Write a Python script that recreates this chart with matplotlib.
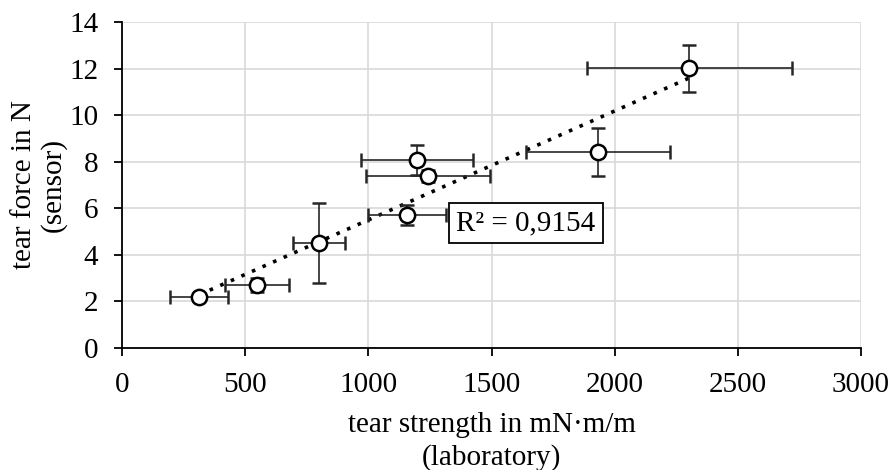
import numpy as np
import matplotlib
matplotlib.use('Agg')
import matplotlib.pyplot as plt

plt.rcParams['font.family'] = ['Liberation Serif', 'DejaVu Serif']

# tear strength (laboratory) vs tear force (sensor)
strength = [313, 548, 800, 1157, 1198, 1242, 1933, 2302]
strength_err = [117, 130, 105, 160, 228, 250, 293, 416]
force = [2.2, 2.7, 4.5, 5.7, 8.07, 7.38, 8.41, 12.02]
force_err = [0.1, 0.3, 1.72, 0.42, 0.65, 0.25, 1.03, 1.01]

x = np.array(strength)
y = np.array(force)
k, d = np.polyfit(x, y, 1)
r2 = 1 - np.sum((y - (k*x + d))**2) / np.sum((y - y.mean())**2)

fig = plt.figure(figsize=(8.93, 4.70), dpi=100)
ax = fig.add_axes([122/893, 1-348/470, (861-122)/893, (348-22)/470])

ax.grid(True, color='#d9d9d9', linewidth=1.2)
ax.set_axisbelow(True)

xs = np.array([x.min(), x.max()])
ax.plot(xs, k*xs + d, color='black', linestyle=(0, (1, 2.2)), linewidth=2.6, zorder=2)

ax.errorbar(x, y, xerr=strength_err, yerr=force_err, fmt='o', ms=11,
            mfc='white', mec='black', mew=1.8, ecolor='#262626', elinewidth=1.2,
            capsize=5, capthick=1.2, zorder=3)

ax.text(1640, 5.37, 'R² = {:.4f}'.format(r2).replace('.', ','), fontsize=21,
        ha='center', va='center', zorder=5,
        bbox=dict(boxstyle='square,pad=0.25', fc='white', ec='black', lw=1.3))

ax.set_xlim(0, 3000)
ax.set_ylim(0, 14)
ax.set_xticks(np.arange(0, 3001, 500))
ax.set_yticks(np.arange(0, 15, 2))
for s in ['top', 'right']:
    ax.spines[s].set_visible(False)
for s in ['left', 'bottom']:
    ax.spines[s].set_linewidth(1.3)
ax.tick_params(labelsize=21, length=6, width=1.3, direction='out')
ax.tick_params(axis='x', pad=11)
ax.tick_params(axis='y', pad=11)

ax.set_xlabel('tear strength in mN·m/m\n(laboratory)', fontsize=21, labelpad=10,
              linespacing=1.3)
ax.set_ylabel('tear force in N\n(sensor)', fontsize=21, labelpad=2, linespacing=1.1)

fig.savefig('out.png', dpi=100)
